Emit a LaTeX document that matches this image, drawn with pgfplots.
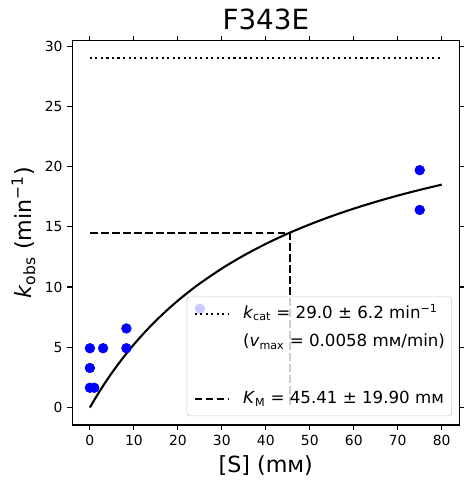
\documentclass[border=0pt]{standalone}
\usepackage{pgfplots}
\pgfplotsset{compat=1.18}
\usepackage{fontspec}
\setmainfont{DejaVu Sans}
\newcommand{\mM}{m\symbol{"1D0D}}
\begin{document}
\begin{tikzpicture}
\useasboundingbox (-52.06pt,-42.5pt) rectangle (285.62pt,305.98pt);
\begin{axis}[
  scale only axis,
  width=278.64pt, height=276.7pt,
  xmin=-4, xmax=84, ymin=-1.45, ymax=30.45,
  xtick={0,10,...,80}, ytick={0,5,...,30},
  tick align=outside, major tick length=3.5pt,
  tick style={black, line width=0.8pt},
  axis line style={line width=0.8pt},
  /pgf/number format/assume math mode=true,
  ticklabel style={font=\fontsize{10}{12}\selectfont},
  xticklabel style={yshift=-0.5pt},
  title={F343E},
  title style={font=\fontsize{20}{24}\selectfont, at={(0.5,1)}, anchor=south, yshift=-2pt},
  xlabel={[S] (\mM)},
  ylabel={\textit{k}\textsubscript{obs} (min\textsuperscript{−1})},
  label style={font=\fontsize{16}{19}\selectfont},
  xlabel style={yshift=0pt},
  ylabel style={yshift=0pt},
  legend style={at={(0.981,0.023)}, anchor=south east,
    draw=black!20, fill=white, fill opacity=0.8, text opacity=1, draw opacity=1,
    rounded corners=2pt, font=\fontsize{12}{14}\selectfont,
    inner sep=4.8pt, row sep=6pt, column sep=9.6pt,
    nodes={inner sep=0pt, text height=10.5pt, text depth=4pt}},
  legend cell align=left,
  legend image code/.code={\draw[#1] (0pt,0pt) -- (24.5pt,0pt);},
]
\addplot[only marks, mark=*, mark size=3.5pt, color=blue, forget plot] coordinates {
 (0,4.92) (0,3.28) (0,1.64) (1,1.64) (3,4.92) (8.3,6.56) (8.3,4.92) (25,8.2) (75,19.7) (75,16.4)
};
\addplot[black, line width=1.5pt, smooth, forget plot] coordinates {
 (0,0) (1,0.6249) (2,1.2234) (3,1.7972) (5,2.8764) (7.5,4.1107) (10,5.2337) (12.5,6.2597)
 (15,7.2008) (17.5,8.0671) (20,8.8672) (22.5,9.6083) (25,10.2968) (30,11.5369) (35,12.6228)
 (40,13.5815) (45,14.4386) (50,15.1976) (55,15.8849) (60,16.5070) (65,17.0727) (70,17.5894)
 (75,18.0633) (80,18.4993)
};
\addplot[black, line width=1.5pt, dash pattern=on 1.5pt off 2.475pt] coordinates {(0,29.0) (80,29.0)};
\addlegendentry{\textit{k}\textsubscript{cat} = 29.0 ± 6.2 min\textsuperscript{−1}}
\addlegendimage{empty legend}
\addlegendentry{(\textit{v}\textsubscript{max} = 0.0058 \mM/min)}
\addlegendimage{empty legend}
\addlegendentry{\strut}
\addplot[black, line width=1.5pt, dash pattern=on 5.55pt off 2.4pt] coordinates {(0,14.5) (45.41,14.5) (45.41,0)};
\addlegendentry{\textit{K}\textsubscript{M} = 45.41 ± 19.90 \mM}
\end{axis}
\end{tikzpicture}
\end{document}
